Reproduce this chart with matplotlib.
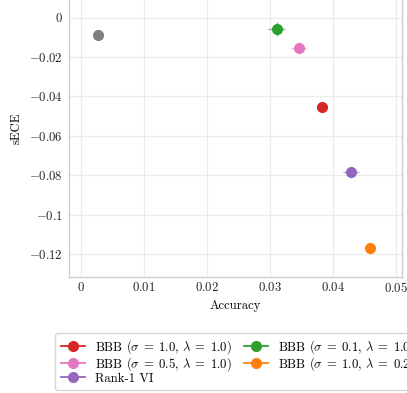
import matplotlib
matplotlib.use("Agg")
import matplotlib.pyplot as plt
from matplotlib.ticker import FuncFormatter, FixedLocator
from matplotlib.lines import Line2D

plt.rcParams['font.family'] = 'serif'
plt.rcParams['font.serif'] = ['cmr10']
plt.rcParams['mathtext.fontset'] = 'cm'
plt.rcParams['axes.unicode_minus'] = True

labels = [r"BBB ($\sigma\;=\;1.0,\,\lambda\;=\;1.0$)",
          r"BBB ($\sigma\;=\;0.1,\,\lambda\;=\;1.0$)",
          r"BBB ($\sigma\;=\;0.5,\,\lambda\;=\;1.0$)",
          r"BBB ($\sigma\;=\;1.0,\,\lambda\;=\;0.2$)",
          "Rank-1 VI"]
colors = ["#d62728", "#2ca02c", "#e377c2", "#ff7f0e", "#9467bd"]
acc = [0.0383, 0.0311, 0.0346, 0.0460, 0.0429]
sece = [-0.0453, -0.0058, -0.0153, -0.1172, -0.0786]
acc_err = [0.0002, 0.0014, 0.0012, 0.0001, 0.0013]
sece_err = [0.0005, 0.0036, 0.0025, 0.0005, 0.0010]

base_acc = 0.0027
base_sece = -0.0087

xticks = [0, 0.01, 0.02, 0.03, 0.04, 0.05]
yticks = [0, -0.02, -0.04, -0.06, -0.08, -0.1, -0.12]

FS = 9.1
W, H = 407, 393
fig = plt.figure(figsize=(W/100, H/100), dpi=100)
left, right, bottom, top = 69, 402, 277, -20
ax = fig.add_axes([left/W, 1 - bottom/H, (right-left)/W, (bottom-top)/H])

for l, c, x, y, xe, ye in zip(labels, colors, acc, sece, acc_err, sece_err):
    ax.errorbar(x, y, xerr=xe, yerr=ye, fmt='o', color=c, ms=7,
                ecolor=c, elinewidth=1.0, capsize=0, zorder=3)
for ln in ax.collections:
    ln.set_alpha(0.6)
ax.plot([base_acc], [base_sece], 'o', color='#7f7f7f', ms=7, zorder=3)

ax.set_xlim(-0.00183, 0.0510)
px_per = (254 - 17.5) / 0.12
ax.set_ylim(-0.12 - (bottom - 254) / px_per, 0 + (17.5 - top) / px_per)

ax.xaxis.set_major_locator(FixedLocator(xticks))
ax.yaxis.set_major_locator(FixedLocator(yticks))
fmt = FuncFormatter(lambda v, p: "$%g$" % round(v, 4) if abs(v) > 1e-12 else "$0$")
ax.xaxis.set_major_formatter(fmt)
ax.yaxis.set_major_formatter(fmt)

ax.grid(True, color='#ebebeb', linewidth=0.9)
ax.set_axisbelow(True)
for s in ax.spines.values():
    s.set_color('#cccccc')
    s.set_linewidth(1.0)
ax.tick_params(length=0, labelsize=FS, colors='#222222')
ax.tick_params(axis='x', pad=3)
ax.tick_params(axis='y', pad=4.2)

ax.set_xlabel("Accuracy", fontsize=FS, labelpad=3.5)
ax.set_ylabel("sECE", fontsize=FS, labelpad=4.5)

handles = [Line2D([], [], color=c, marker='o', ms=7, lw=1.3) for c in colors]
order = [0, 2, 4, 1, 3]
leg = fig.legend([handles[i] for i in order], [labels[i] for i in order],
                 loc='upper left', bbox_to_anchor=(55/W, 1 - 332.5/H),
                 ncol=2, fontsize=FS, frameon=True, handlelength=1.9,
                 columnspacing=0.9, handletextpad=0.85, labelspacing=-0.05,
                 borderpad=0.45, borderaxespad=0, fancybox=True)
leg.get_frame().set_edgecolor('#cccccc')
leg.get_frame().set_linewidth(1.0)

fig.savefig("out.png", dpi=100)
